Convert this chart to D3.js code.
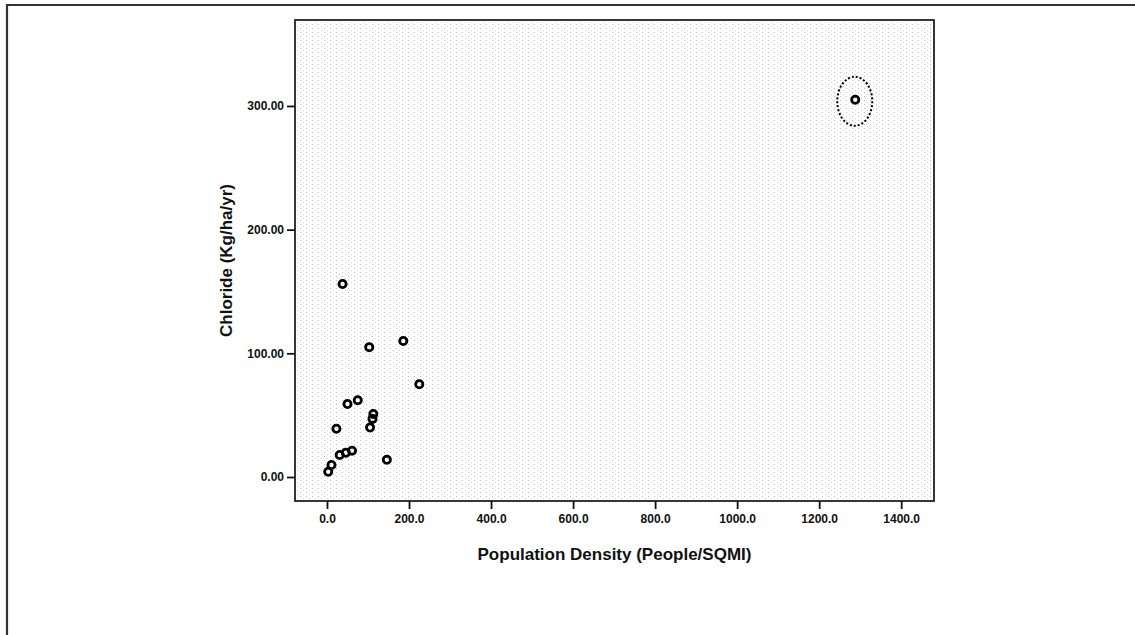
<!DOCTYPE html>
<html>
<head>
<meta charset="utf-8">
<script src="https://cdn.jsdelivr.net/npm/d3@7"></script>
<style>
  body { margin: 0; background: #fff; }
  svg { display: block; }
  text { font-family: "Liberation Sans", Arial, sans-serif; font-weight: bold; fill: #111; }
</style>
</head>
<body>
<svg id="chart" width="1135" height="635"></svg>
<script>
// values
var density  = [38, 186, 103, 225, 75, 50, 113, 111, 105, 23, 146, 61, 46, 31, 11, 3, 1288];
var chloride = [156, 110, 105, 75, 62, 59, 51, 47, 40, 39, 14, 21.3, 19.6, 17.8, 9.7, 4.3, 305];
var xTicks = [0, 200, 400, 600, 800, 1000, 1200, 1400];
var yTicks = [0, 100, 200, 300];
var outlier = 16; // index of the circled point

var svg = d3.select("#chart");
// plot box (note: "top" is a reserved window prop, so use pTop etc.)
var pLeft = 295, pTop = 20, pRight = 934, pBottom = 501;

var x = d3.scaleLinear().domain([-78, 1480]).range([pLeft, pRight]);
var y = d3.scaleLinear().domain([-19.4, 369.5]).range([pBottom, pTop]);

// outer frame of the figure
svg.append("path")
    .attr("d", "M7,640 L7,5 L1140,5")
    .attr("fill", "none")
    .attr("stroke", "#333")
    .attr("stroke-width", 2.2);

// stipple fill of the plot area (scan dither)
var defs = svg.append("defs");
var pat = defs.append("pattern")
    .attr("id", "stipple")
    .attr("width", 6).attr("height", 4)
    .attr("patternUnits", "userSpaceOnUse");
pat.append("rect").attr("x", 0).attr("y", 0).attr("width", 1).attr("height", 1).attr("fill", "#bdbdbd");
pat.append("rect").attr("x", 3).attr("y", 2).attr("width", 1).attr("height", 1).attr("fill", "#d6d6d6");

svg.append("rect")
    .attr("x", pLeft).attr("y", pTop)
    .attr("width", pRight - pLeft).attr("height", pBottom - pTop)
    .attr("fill", "url(#stipple)")
    .attr("stroke", "#222")
    .attr("stroke-width", 1.8);

// axes
var xAxis = d3.axisBottom(x).tickValues(xTicks).tickSize(8).tickPadding(5)
    .tickFormat(d3.format(".1f"));
var yAxis = d3.axisLeft(y).tickValues(yTicks).tickSize(8).tickPadding(3)
    .tickFormat(d3.format(".2f"));

var gX = svg.append("g").attr("transform", "translate(0," + pBottom + ")").call(xAxis);
var gY = svg.append("g").attr("transform", "translate(" + pLeft + ",0)").call(yAxis);

[gX, gY].forEach(function (g) {
    g.select(".domain").remove();
    g.selectAll(".tick line").attr("stroke", "#111").attr("stroke-width", 1.8);
    g.selectAll(".tick text").attr("font-size", 12).style("fill", "#111");
});

// axis titles
svg.append("text")
    .attr("x", (pLeft + pRight) / 2).attr("y", 560)
    .attr("text-anchor", "middle")
    .attr("font-size", 17)
    .text("Population Density (People/SQMI)");

svg.append("text")
    .attr("transform", "translate(232," + ((pTop + pBottom) / 2) + ") rotate(-90)")
    .attr("text-anchor", "middle")
    .attr("font-size", 17)
    .text("Chloride (Kg/ha/yr)");

// points
svg.append("g").selectAll("circle")
    .data(density.map(function (d, i) { return {x: d, y: chloride[i]}; }))
    .enter().append("circle")
    .attr("cx", function (d) { return x(d.x); })
    .attr("cy", function (d) { return y(d.y); })
    .attr("r", 3.6)
    .attr("fill", "none")
    .attr("stroke", "#000")
    .attr("stroke-width", 2.8);

// dotted ring round the outlier
svg.append("ellipse")
    .attr("cx", x(density[outlier]) - 0.5)
    .attr("cy", y(chloride[outlier]) + 1.5)
    .attr("rx", 17.5).attr("ry", 24.5)
    .attr("fill", "none")
    .attr("stroke", "#000")
    .attr("stroke-width", 2)
    .attr("stroke-dasharray", "2,2");
</script>
</body>
</html>
